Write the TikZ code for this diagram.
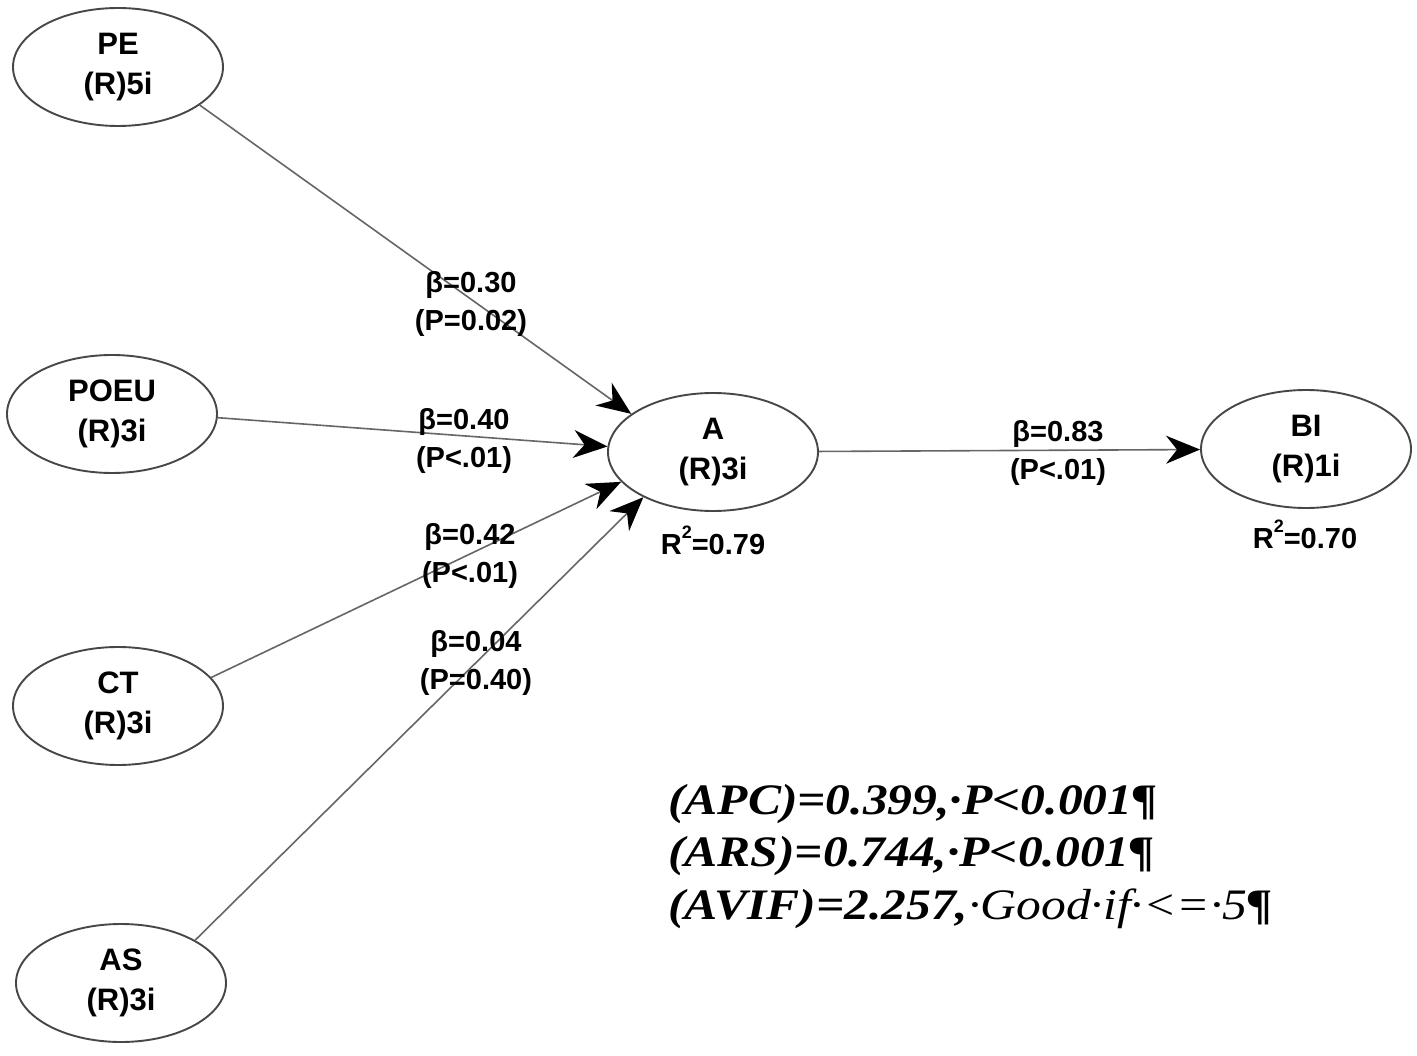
\documentclass[tikz,border=0pt]{standalone}
\usepackage{fontspec}
\setmainfont{Liberation Sans}
\newfontfamily\notefont[FakeStretch=1.14]{Liberation Serif}
\usetikzlibrary{shapes.geometric,arrows.meta}
\begin{document}
\begin{tikzpicture}[x=1pt,y=-1pt,
  lv/.style={draw=black!72, line width=1.9pt, ellipse, minimum width=210pt, minimum height=118pt,
    inner sep=0pt, align=center, font=\fontsize{31}{40}\selectfont\bfseries},
  pathline/.style={draw=black!60, line width=1.6pt,
    -{Stealth[length=34pt,width=28pt,inset=11pt,black]}},
  lab/.style={align=center, font=\fontsize{29}{38}\selectfont\bfseries, inner sep=0pt},
  note/.style={anchor=base west, inner sep=0pt, font=\notefont\fontsize{43.5}{52}\selectfont\bfseries\itshape}
  ]
\useasboundingbox (0,0) rectangle (1417,1056);
\fill[white] (0,0) rectangle (1417,1056);

\node[lv] (PE)   at (118,67)  {PE\\(R)5i};
\node[lv] (POEU) at (112,414) {POEU\\(R)3i};
\node[lv] (CT)   at (118,706) {CT\\(R)3i};
\node[lv] (AS)   at (121,983) {AS\\(R)3i};
\node[lv] (A)    at (713,452) {A\\(R)3i};
\node[lv] (BI)   at (1306,449) {BI\\(R)1i};

\draw[pathline] (PE.-25) -- (A.155);
\draw[pathline] (POEU.-2) -- (A.177);
\draw[pathline] (CT.17) -- (A.198);
\draw[pathline] (AS.30) -- (A.213);
\draw[pathline] (A) -- (BI);

\node[lab] (l1) at (471,304) {β=0.30\\(P=0.02)};
\node[lab] (l2) at (464,441) {β=0.40\\(P<.01)};
\node[lab] (l3) at (470,556) {β=0.42\\(P<.01)};
\node[lab] (l4) at (476,663) {β=0.04\\(P=0.40)};
\node[lab] (l5) at (1058,453) {β=0.83\\(P<.01)};
\node[lab, anchor=base] (rA) at (713,554) {R\raisebox{0.55em}{\fontsize{18}{18}\selectfont 2}=0.79};
\node[lab, anchor=base] (rB) at (1305,548) {R\raisebox{0.55em}{\fontsize{18}{18}\selectfont 2}=0.70};

\node[note] (n1) at (668,814) {(APC)=0.399,·P<0.001¶};
\node[note] (n2) at (668,866) {(ARS)=0.744,·P<0.001¶};
\node[note] (n3) at (668,919) {(AVIF)=2.257,{\mdseries·Good·if·<=·5}¶};
\end{tikzpicture}
\end{document}
